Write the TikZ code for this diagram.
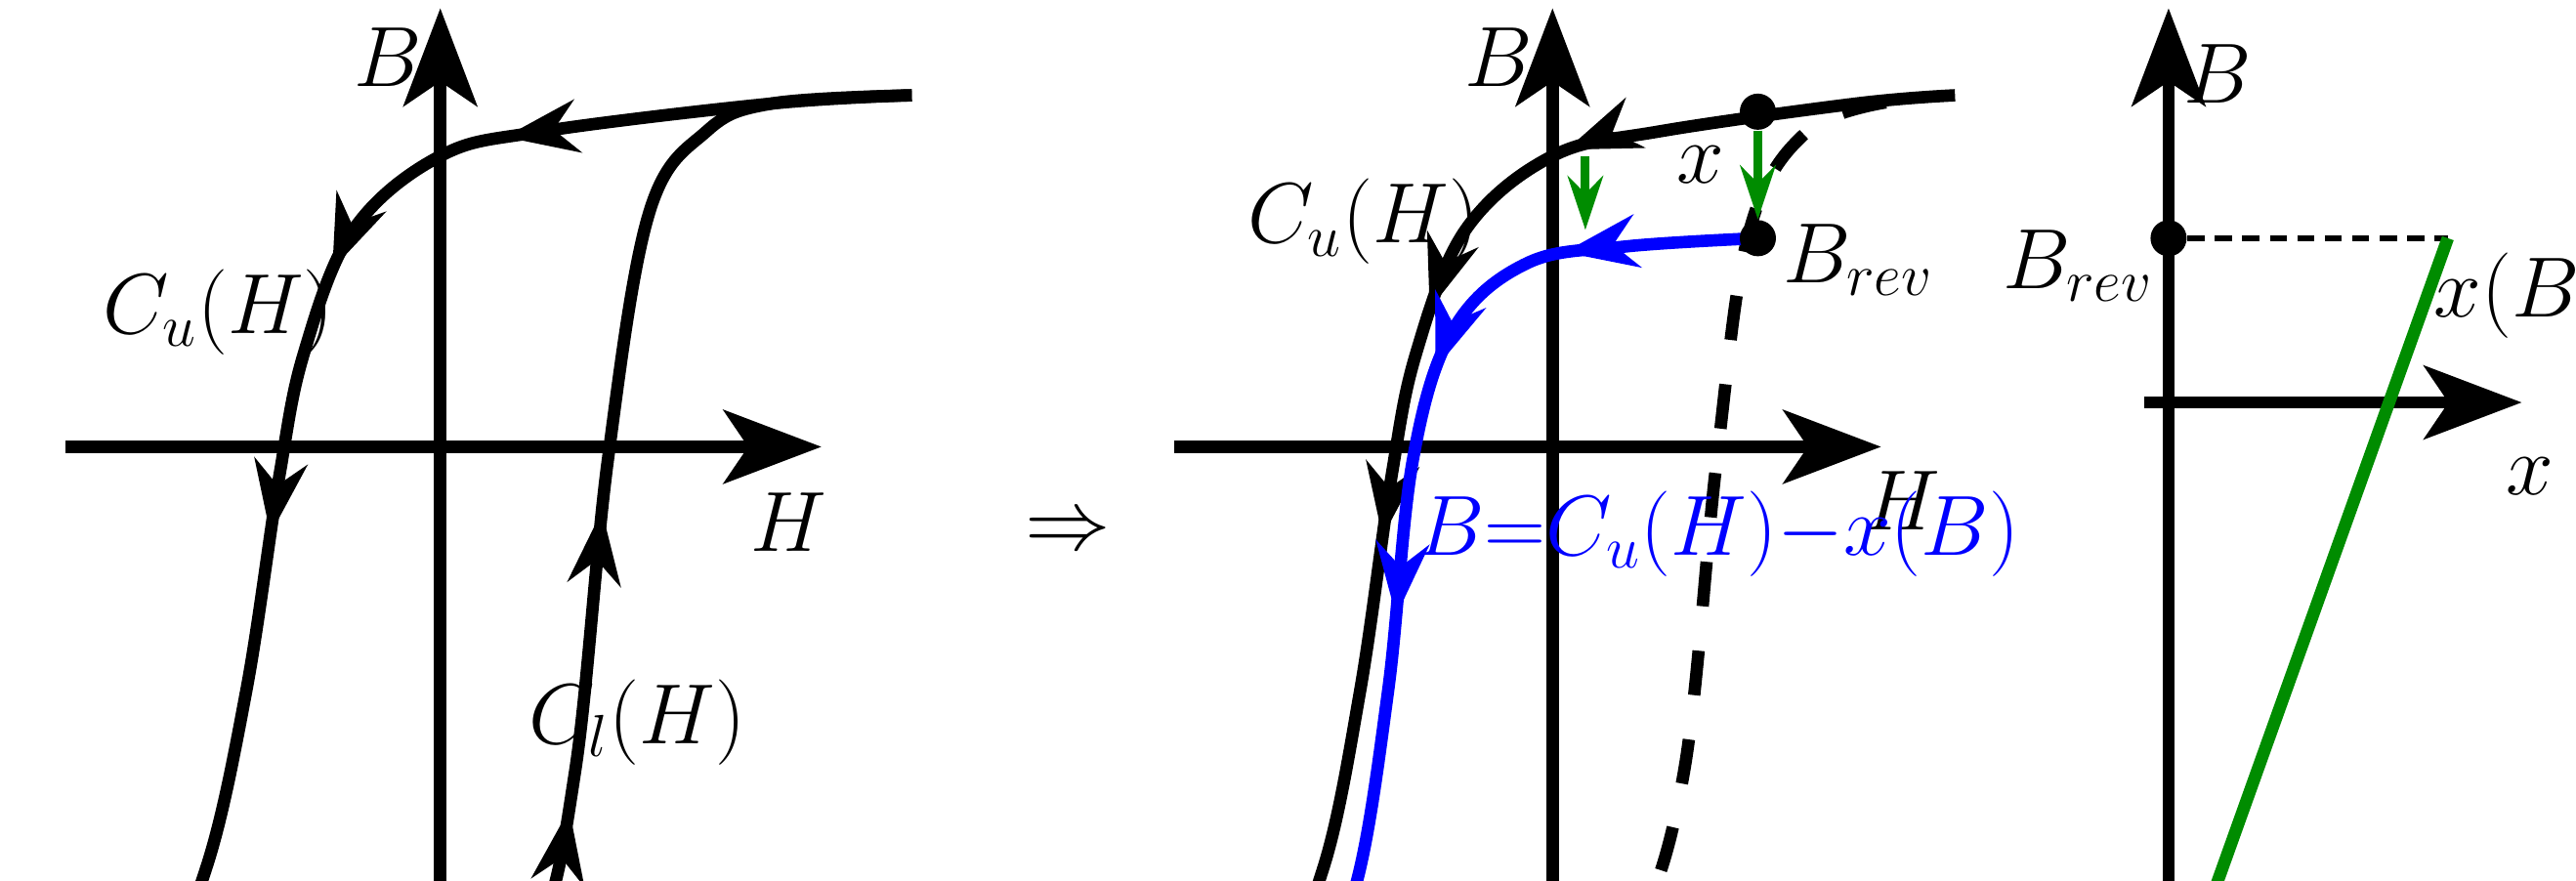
\documentclass[tikz,border=0pt]{standalone}
\usetikzlibrary{arrows.meta,decorations.markings}
\begin{document}
\begin{tikzpicture}[x=0.01682cm,y=-0.01682cm,
  ax/.style={line width=3.6pt,-{Stealth[length=1.0cm,width=0.75cm,inset=0.25cm]}},
  crv/.style={line width=3.6pt},
  lbl/.style={font=\fontsize{25}{28}\selectfont},
  dot/.style={circle,fill,inner sep=0pt,minimum size=0.37cm}]
\tikzset{mh/.style={decoration={markings,
   mark=at position #1 with {\arrow{Stealth[length=0.75cm,width=0.54cm]}}}}}
\useasboundingbox (0,0) rectangle (1568,536);
% panel a
\draw[ax] (40,272) -- (500,272);
\draw[ax] (268,680) -- (268,5);
\draw[crv,
  postaction={decorate},decoration={markings,
   mark=at position 0.27 with {\arrow{Stealth[length=0.75cm,width=0.54cm]}},
   mark=at position 0.42 with {\arrow{Stealth[length=0.75cm,width=0.54cm]}},
   mark=at position 0.6 with {\arrow{Stealth[length=0.75cm,width=0.54cm]}}}]
  plot[smooth,tension=0.6] coordinates {(555,58) (470,63) (330,80) (268,95) (215,140) (185,215) (170,290) (150,420) (125,530) (90,600) (15,630)};
\draw[crv,
  postaction={decorate},decoration={markings,
   mark=at position 0.27 with {\arrow{Stealth[length=0.75cm,width=0.54cm]}},
   mark=at position 0.42 with {\arrow{Stealth[length=0.75cm,width=0.54cm]}},
   mark=at position 0.61 with {\arrow{Stealth[length=0.75cm,width=0.54cm]}}}]
  plot[smooth,tension=0.6] coordinates {(15,630) (100,622) (268,603) (325,570) (350,470) (370,280) (395,130) (430,80) (470,63) (555,58)};
\node[lbl] (cu) at (133,190) {$C_u(H)$};
\node[lbl] (cl) at (388,440) {$C_l(H)$};
\node[lbl] (bA) at (236,35) {$B$};
\node[lbl] (hA) at (480,318) {$H$};
\node[lbl] (la) at (268,820) {(a)};
\node (impl) at (650,325) {\fontsize{64}{64}\selectfont$\Rightarrow$};
% panel b
\draw[ax] (715,272) -- (1145,272);
\draw[ax] (945,700) -- (945,5);
\draw[crv,dashed,dash pattern=on 13pt off 13pt] plot[smooth,tension=0.6] coordinates {(722,625) (860,612) (945,600) (995,565) (1025,470) (1045,280) (1065,140) (1100,80) (1150,62)};
\draw[crv,
  postaction={decorate},decoration={markings,
   mark=at position 0.27 with {\arrow{Stealth[length=0.75cm,width=0.54cm]}},
   mark=at position 0.42 with {\arrow{Stealth[length=0.75cm,width=0.54cm]}},
   mark=at position 0.58 with {\arrow{Stealth[length=0.75cm,width=0.54cm]}}}]
  plot[smooth,tension=0.6] coordinates {(1190,58) (1130,63) (1010,80) (945,95) (892,140) (862,215) (847,290) (828,420) (805,530) (770,600) (690,630)};
\draw[crv,blue,
  postaction={decorate},decoration={markings,
   mark=at position 0.17 with {\arrow{Stealth[length=0.75cm,width=0.54cm]}},
   mark=at position 0.33 with {\arrow{Stealth[length=0.75cm,width=0.54cm]}},
   mark=at position 0.55 with {\arrow{Stealth[length=0.75cm,width=0.54cm]}}}]
  plot[smooth,tension=0.6] coordinates {(1070,145) (990,150) (930,160) (885,200) (860,280) (845,420) (825,540) (795,600) (722,625)};
\node[dot] (d1) at (1070,68) {};
\node[dot] (d2) at (1070,145) {};
\node[dot] (d3) at (722,625) {};
\draw[line width=2.6pt,green!55!black,-{Stealth[length=0.55cm,width=0.36cm]}] (965,95) -- (965,140);
\draw[line width=2.6pt,green!55!black,-{Stealth[length=0.55cm,width=0.36cm]}] (d1) -- (d2);
\node[lbl] (xb) at (1035,100) {$x$};
\node[lbl,anchor=west] (brev) at (1078,158) {$B_{rev}$};
\node[lbl] (cub) at (830,135) {$C_u(H)$};
\node[lbl] (bB) at (912,35) {$B$};
\node[lbl] (hB) at (1158,305) {$H$};
\node[lbl,blue,anchor=west] (eq) at (855,325) {$B{=}C_u(H){-}x(B)$};
\node[lbl] (bs) at (728,665) {$-B_s$};
\node[lbl] (lb) at (945,820) {(b)};
% panel c
\draw[ax] (1305,245) -- (1535,245);
\draw[ax] (1320,780) -- (1320,5);
\node[dot] (c1) at (1320,145) {};
\node[dot] (c2) at (1320,620) {};
\coordinate (c3) at (1490,145);
\draw[line width=1.6pt,dashed,dash pattern=on 5pt off 3pt] (c1) -- (c3);
\draw[line width=3.6pt,green!55!black] (c2) -- (c3);
\node[lbl] (bC) at (1350,45) {$B$};
\node[lbl,anchor=east] (brevc) at (1318,162) {$B_{rev}$};
\node[lbl] (xB) at (1535,180) {$x(B)$};
\node[lbl] (xc) at (1540,290) {$x$};
\node[lbl] (bsc) at (1290,660) {$-B_s$};
\node[lbl] (lc) at (1440,830) {(c)};
\end{tikzpicture}
\end{document}
